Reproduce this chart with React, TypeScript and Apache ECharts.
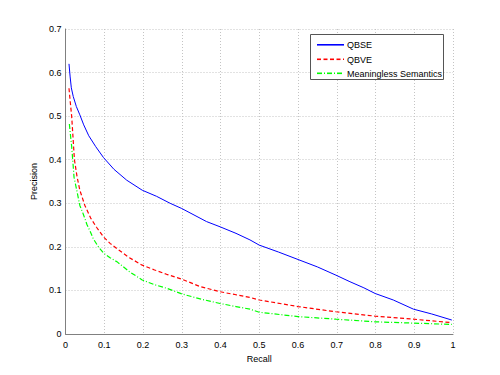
import React, { useEffect, useRef } from "react";
import * as echarts from "echarts";

const seriesNames = ["QBSE", "QBVE", "Meaningless Semantics"];
const seriesColors = ["#0000ff", "#ff0000", "#00ff00"];
const seriesDash: (number[] | null)[] = [null, [4, 2.5], [5, 2, 1, 2]];

const qbseRecall = [0.009, 0.012, 0.015, 0.02, 0.028, 0.037, 0.047, 0.06, 0.078, 0.098, 0.125, 0.158, 0.198, 0.235, 0.27, 0.3, 0.364, 0.399, 0.44, 0.476, 0.5, 0.55, 0.6, 0.65, 0.698, 0.734, 0.77, 0.799, 0.846, 0.898, 0.945, 0.997];
const qbsePrecision = [0.62, 0.59, 0.565, 0.545, 0.522, 0.503, 0.48, 0.455, 0.43, 0.405, 0.378, 0.353, 0.33, 0.316, 0.3, 0.288, 0.258, 0.246, 0.231, 0.216, 0.204, 0.188, 0.171, 0.154, 0.135, 0.12, 0.106, 0.093, 0.078, 0.057, 0.046, 0.032];

const qbveRecall = [0.009, 0.012, 0.016, 0.023, 0.03, 0.037, 0.05, 0.065, 0.08, 0.099, 0.115, 0.134, 0.165, 0.198, 0.23, 0.261, 0.3, 0.347, 0.399, 0.44, 0.476, 0.5, 0.6, 0.698, 0.799, 0.898, 0.997];
const qbvePrecision = [0.564, 0.535, 0.499, 0.4, 0.36, 0.33, 0.295, 0.266, 0.245, 0.222, 0.208, 0.195, 0.175, 0.158, 0.147, 0.137, 0.126, 0.109, 0.097, 0.09, 0.084, 0.078, 0.063, 0.051, 0.041, 0.034, 0.026];

const msRecall = [0.01, 0.013, 0.016, 0.022, 0.029, 0.037, 0.046, 0.055, 0.063, 0.072, 0.085, 0.099, 0.115, 0.134, 0.165, 0.198, 0.23, 0.261, 0.3, 0.35, 0.399, 0.44, 0.476, 0.5, 0.6, 0.698, 0.799, 0.898, 0.997];
const msPrecision = [0.482, 0.455, 0.43, 0.36, 0.33, 0.295, 0.275, 0.252, 0.237, 0.218, 0.2, 0.185, 0.175, 0.165, 0.143, 0.124, 0.113, 0.105, 0.092, 0.08, 0.07, 0.063, 0.057, 0.05, 0.04, 0.034, 0.028, 0.025, 0.022];

const xTicks = [0, 0.1, 0.2, 0.3, 0.4, 0.5, 0.6, 0.7, 0.8, 0.9, 1];
const yTicks = [0, 0.1, 0.2, 0.3, 0.4, 0.5, 0.6, 0.7];

const zip = (xs: number[], ys: number[]) => xs.map((x, i) => [x, ys[i]]);

const FONT = "'Liberation Sans', Arial, Helvetica, sans-serif";
const FS = 9;

function dashSegments(x1: number, x2: number, pattern: number[] | null): [number, number][] {
  if (!pattern) return [[x1, x2]];
  const segs: [number, number][] = [];
  let x = x1;
  let k = 0;
  while (x < x2) {
    const len = pattern[k % pattern.length];
    if (k % 2 === 0) segs.push([x, Math.min(x + len, x2)]);
    x += len;
    k++;
  }
  return segs;
}

export default function App() {
  const ref = useRef<HTMLDivElement>(null);
  useEffect(() => {
    if (!ref.current) return;
    const chart = echarts.init(ref.current, undefined, { renderer: "svg" });
    const axisLabel = { fontFamily: FONT, fontSize: FS, color: "#000" };
    const splitLine = { show: true, lineStyle: { color: "#c4c4c4", type: [1, 2] as any, width: 1 } };

    const legendLeft = 310.5;
    const legendTop = 34.5;
    const rowYs = [44, 58.5, 72.5];
    const legendChildren: any[] = [
      {
        type: "rect",
        shape: { x: legendLeft, y: legendTop, width: 133, height: 45 },
        style: { fill: "#fff", stroke: "#555", lineWidth: 1 },
        z: 10,
      },
    ];
    seriesNames.forEach((name, i) => {
      dashSegments(317, 344, seriesDash[i]).forEach(([a, b]) => {
        legendChildren.push({
          type: "rect",
          shape: { x: a, y: rowYs[i], width: b - a, height: 1.6 },
          style: { fill: seriesColors[i], stroke: null },
          z: 11,
        });
      });
      legendChildren.push({
        type: "text",
        x: 347,
        y: rowYs[i] + 1,
        style: { text: name, fill: "#000", fontFamily: FONT, fontSize: FS, verticalAlign: "middle", align: "left" },
        z: 11,
      });
    });

    chart.setOption({
      animation: false,
      backgroundColor: "#fff",
      grid: { left: 65.5, top: 29, width: 387.5, height: 305 },
      xAxis: {
        type: "value",
        min: xTicks[0],
        max: xTicks[xTicks.length - 1],
        interval: 0.1,
        name: "Recall",
        nameLocation: "middle",
        nameGap: 20,
        nameTextStyle: { fontFamily: FONT, fontSize: FS, color: "#000" },
        axisLine: { show: true, lineStyle: { color: "#808080", width: 1 } },
        axisTick: { show: false },
        axisLabel: { ...axisLabel, margin: 6 },
        splitLine,
      },
      yAxis: {
        type: "value",
        min: yTicks[0],
        max: yTicks[yTicks.length - 1],
        interval: 0.1,
        name: "Precision",
        nameLocation: "middle",
        nameGap: 25,
        nameTextStyle: { fontFamily: FONT, fontSize: FS, color: "#000" },
        axisLine: { show: true, lineStyle: { color: "#808080", width: 1 } },
        axisTick: { show: false },
        axisLabel: { ...axisLabel, margin: 4 },
        splitLine,
      },
      graphic: [{ type: "group", children: legendChildren }],
      series: [
        {
          name: seriesNames[0],
          type: "line",
          data: zip(qbseRecall, qbsePrecision),
          showSymbol: false,
          symbol: "none",
          lineStyle: { color: seriesColors[0], width: 1 },
          itemStyle: { color: seriesColors[0] },
        },
        {
          name: seriesNames[1],
          type: "line",
          data: zip(qbveRecall, qbvePrecision),
          showSymbol: false,
          symbol: "none",
          lineStyle: { color: seriesColors[1], width: 1.2, type: seriesDash[1] as any },
          itemStyle: { color: seriesColors[1] },
        },
        {
          name: seriesNames[2],
          type: "line",
          data: zip(msRecall, msPrecision),
          showSymbol: false,
          symbol: "none",
          lineStyle: { color: seriesColors[2], width: 1.2, type: seriesDash[2] as any },
          itemStyle: { color: seriesColors[2] },
        },
      ],
    });
    return () => chart.dispose();
  }, []);
  return <div ref={ref} style={{ width: 500, height: 375, position: "absolute", left: 0, top: 0 }} />;
}
